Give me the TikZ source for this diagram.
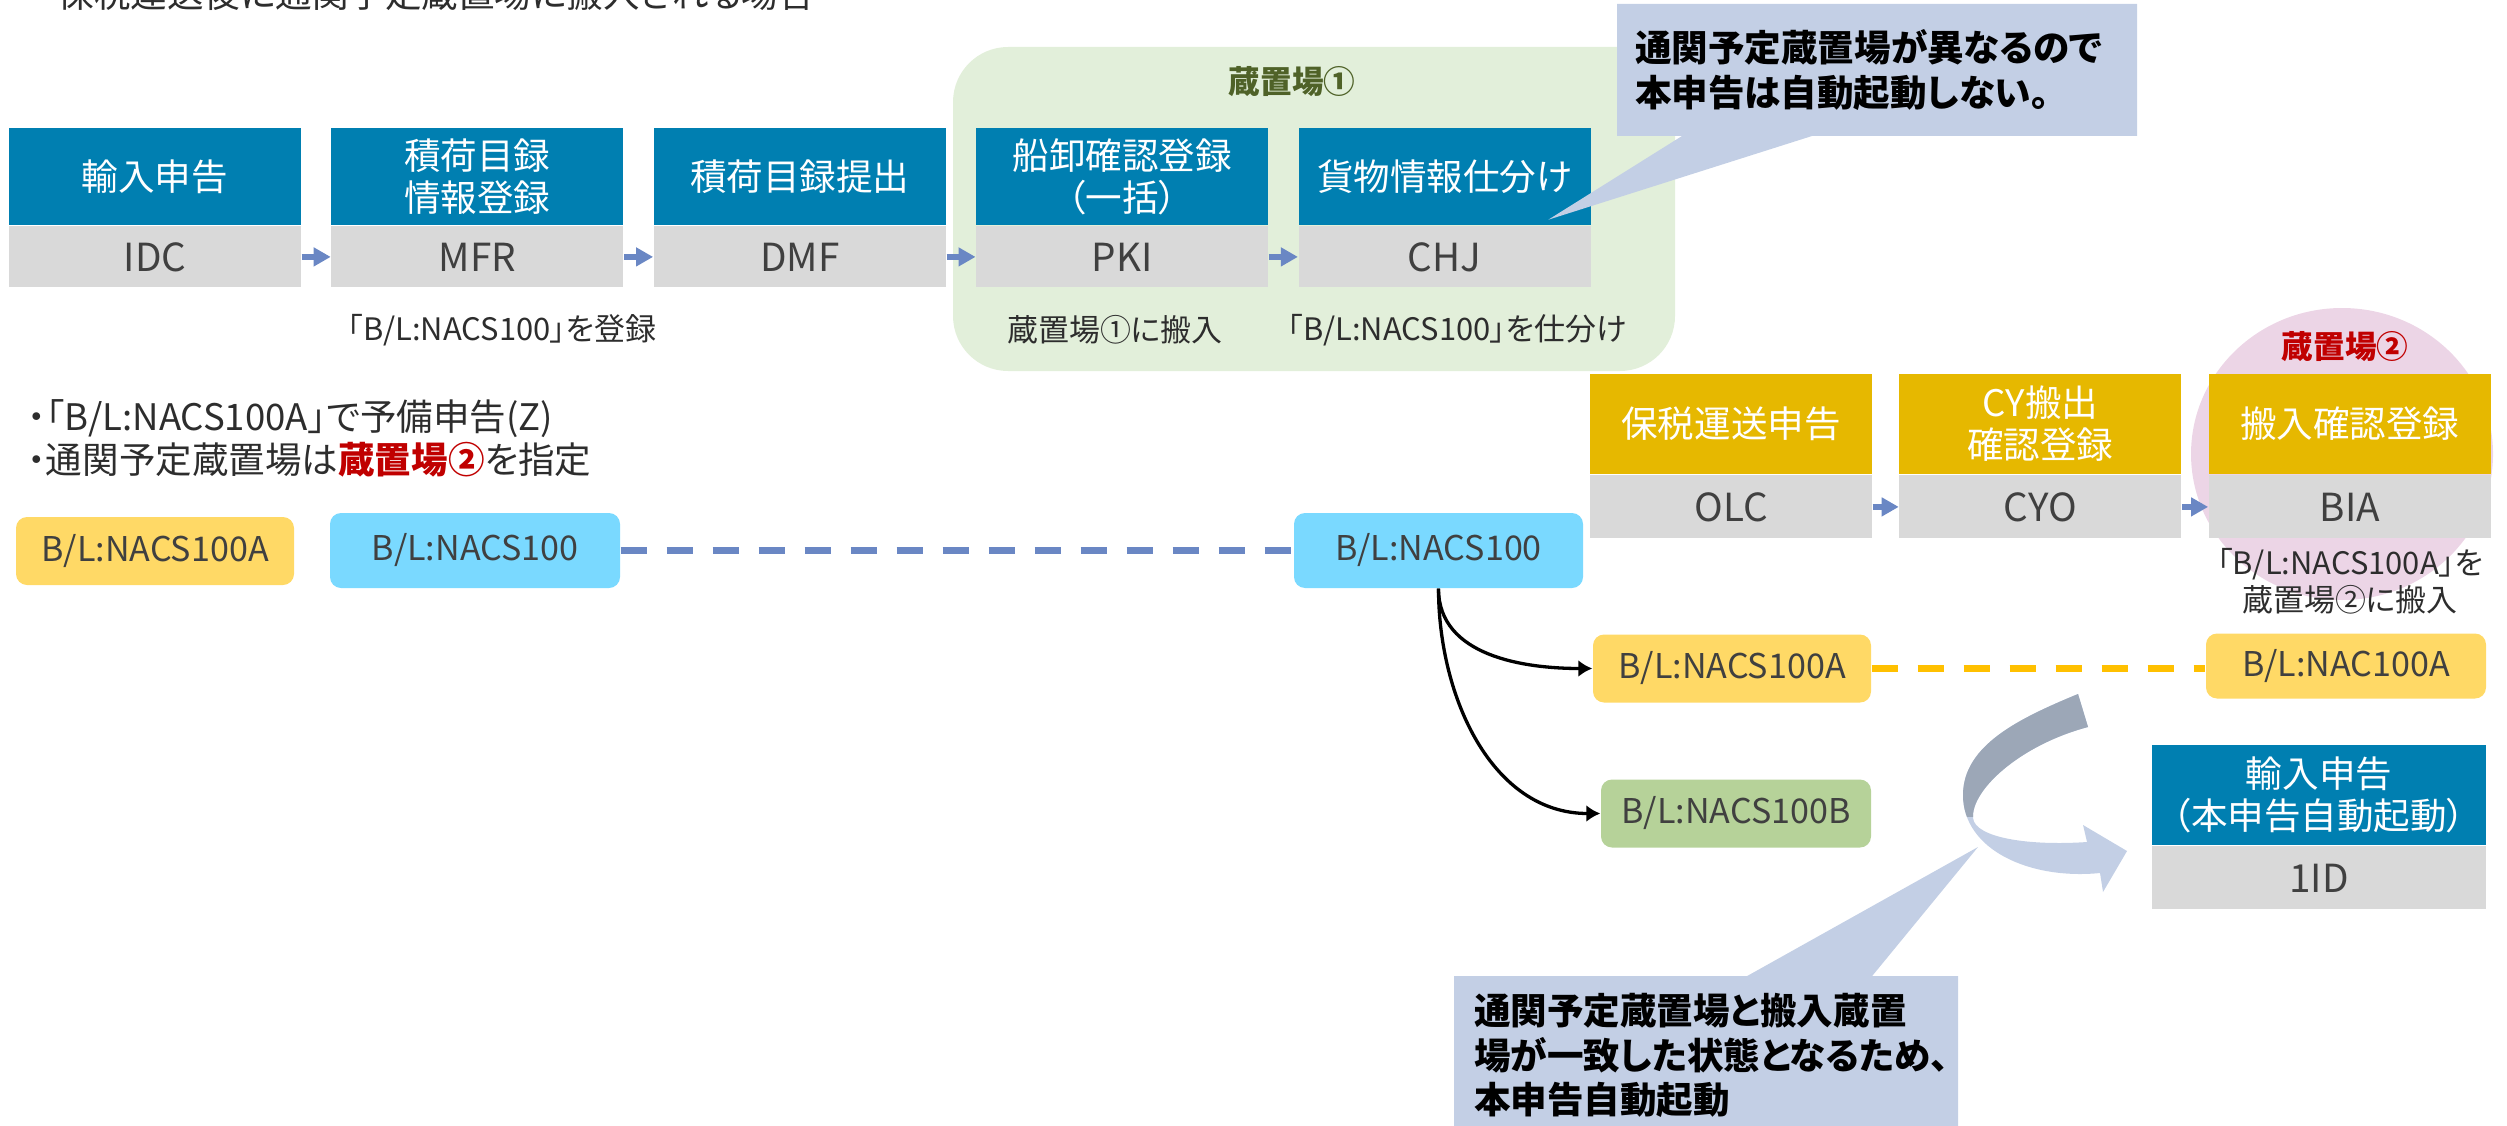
\documentclass[tikz,border=0pt]{standalone}
\usepackage{fontspec}
\setmainfont{Noto Sans CJK JP}[RawFeature=+palt]
\usetikzlibrary{arrows.meta,positioning,calc,shapes.callouts}

\definecolor{headblue}{RGB}{0,127,177}
\definecolor{headgold}{RGB}{230,184,0}
\definecolor{codegray}{RGB}{217,217,217}
\definecolor{codetext}{RGB}{64,64,64}
\definecolor{labeltext}{RGB}{45,45,45}
\definecolor{flowblue}{RGB}{106,135,196}
\definecolor{tagyellow}{RGB}{255,217,102}
\definecolor{tagcyan}{RGB}{122,217,255}
\definecolor{taggreen}{RGB}{182,210,153}
\definecolor{dashorange}{RGB}{255,192,0}
\definecolor{yardgreen}{RGB}{226,239,218}
\definecolor{yardgreentext}{RGB}{79,98,40}
\definecolor{yardpink}{RGB}{236,213,230}
\definecolor{alertred}{RGB}{192,0,0}
\definecolor{notefill}{RGB}{195,207,229}
\definecolor{bendgray}{RGB}{156,167,183}

\newcommand{\fhead}{\fontsize{10.4}{12}\selectfont}
\newcommand{\fcode}{\fontsize{11}{13}\selectfont}
\newcommand{\ftagbox}{\fontsize{9.7}{11}\selectfont}
\newcommand{\flabel}{\fontsize{8.8}{10.5}\selectfont}
\newcommand{\fyard}{\fontsize{9}{11}\selectfont}
\newcommand{\fnote}{\bfseries\fontsize{10.4}{12.6}\selectfont}

\tikzstyle{headbox} = [fill=headblue, text=white, font=\fhead, align=center, inner sep=0pt, minimum width=29.2mm, minimum height=9.7mm]
\tikzstyle{codebox} = [fill=codegray, text=codetext, font=\fcode, inner sep=0pt, minimum width=29.2mm, minimum height=6.1mm]
\tikzstyle{goldhead} = [headbox, fill=headgold, minimum width=28.2mm, minimum height=10mm]
\tikzstyle{goldcode} = [codebox, minimum width=28.2mm, minimum height=6.3mm]
\tikzstyle{tagbox} = [rounded corners=1.1mm, inner sep=0pt, minimum height=6.8mm, text=codetext, font=\ftagbox]
\tikzstyle{lbl} = [font=\flabel, text=labeltext, align=center, inner sep=0pt]
\tikzstyle{flowarrow} = [draw=flowblue, line width=0.6mm, -{Triangle[length=1.7mm,width=1.8mm]}]
\tikzstyle{splitarrow} = [draw, line width=0.33mm, -{Latex[length=1.4mm,width=1.7mm]}]
\tikzstyle{dashlink} = [line width=0.65mm, dash pattern=on 2.6mm off 2mm]
\tikzstyle{notebox} = [rectangle callout, fill=notefill, font=\fnote, align=left, inner ysep=0pt]

% curved arrow to the automatic declaration
\newcommand{\twistpath}{(2078,694) .. controls (2020,718) and (1963,745) .. (1963,795)
  .. controls (1963,850) and (2030,880) .. (2100,873) -- (2103,892) -- (2127,851)
  -- (2083,825) -- (2087,842) .. controls (2030,846) and (1975,838) .. (1973,818)
  .. controls (1971,790) and (2020,745) .. (2088,727) -- cycle}

\begin{document}
\begin{tikzpicture}[x=0.1mm, y=-0.1mm]
    \useasboundingbox (0,0) rectangle (2507,1125);

    \node[anchor=base west, inner sep=0pt, font=\fhead, text=labeltext] (title) at (57,8) {保税運送後に通関予定蔵置場に搬入される場合};

    % storage yards
    \fill[yardgreen, rounded corners=5.5mm] (953,47) rectangle (1675,371);
    \node[font=\bfseries\fyard, text=yardgreentext] (yard1) at (1292,82) {蔵置場①};
    \fill[yardpink] (2342,454) ellipse [x radius=15.1mm, y radius=14.6mm];
    \node[font=\bfseries\fyard, text=alertred] (yard2) at (2345,347) {蔵置場②};

    % first flow
    \node[headbox] (idcH) at (155,176.5) {輸入申告};
    \node[codebox, below=0pt of idcH] (idc) {IDC};
    \node[headbox, right=2.9mm of idcH] (mfrH) {積荷目録\\情報登録};
    \node[codebox, below=0pt of mfrH] (mfr) {MFR};
    \node[headbox, right=2.9mm of mfrH] (dmfH) {積荷目録提出};
    \node[codebox, below=0pt of dmfH] (dmf) {DMF};
    \node[headbox, right=2.9mm of dmfH] (pkiH) {船卸確認登録\\（一括）};
    \node[codebox, below=0pt of pkiH] (pki) {PKI};
    \node[headbox, right=2.9mm of pkiH] (chjH) {貨物情報仕分け};
    \node[codebox, below=0pt of chjH] (chj) {CHJ};
    \path[flowarrow] (idc) -- (mfr);
    \path[flowarrow] (mfr) -- (dmf);
    \path[flowarrow] (dmf) -- (pki);
    \path[flowarrow] (pki) -- (chj);

    \node[lbl] (regMFR) at (502,330) {「B/L:NACS100」を登録};
    \node[lbl] (regPKI) at (1115,330) {蔵置場①に搬入};
    \node[lbl] (regCHJ) at (1457,330) {「B/L:NACS100」を仕分け};

    % preliminary declaration
    \node[anchor=base west, inner sep=0pt, font=\fhead, text=labeltext] (prep1) at (27,430) {・「B/L:NACS100A」で予備申告(Z)};
    \node[anchor=base west, inner sep=0pt, font=\fhead, text=labeltext] (prep2) at (27,473) {・通関予定蔵置場は{\bfseries\color{alertred}蔵置場②}を指定};

    \node[tagbox, fill=tagyellow, minimum width=27.8mm] (preA) at (155,551) {B/L:NACS100A};
    \node[tagbox, fill=tagcyan, minimum width=29mm, minimum height=7.5mm] (blMain) at (475,550.5) {B/L:NACS100};
    \node[tagbox, fill=tagcyan, minimum width=28.9mm, minimum height=7.5mm] (blSort) at (1438.5,550.5) {B/L:NACS100};
    \draw[dashlink, draw=flowblue] (blMain) -- (blSort);

    % bonded transport
    \node[goldhead] (olcH) at (1731,424) {保税運送申告};
    \node[goldcode, below=0pt of olcH] (olc) {OLC};
    \node[goldhead, right=2.6mm of olcH] (cyoH) {CY搬出\\確認登録};
    \node[goldcode, below=0pt of cyoH] (cyo) {CYO};
    \node[goldhead, right=2.6mm of cyoH] (biaH) {搬入確認登録};
    \node[goldcode, below=0pt of biaH] (bia) {BIA};
    \path[flowarrow] (olc) -- (cyo);
    \path[flowarrow] (cyo) -- (bia);
    \node[lbl] (regBIA) at (2350,581) {「B/L:NACS100A」を\\蔵置場②に搬入};

    % split B/L
    \node[tagbox, fill=tagyellow, minimum width=27.8mm] (blA) at (1732,668.5) {B/L:NACS100A};
    \node[tagbox, fill=taggreen, minimum width=27mm] (blB) at (1736,813.5) {B/L:NACS100B};
    \node[tagbox, fill=tagyellow, minimum width=28mm, minimum height=6.5mm] (blNAC) at (2346,666) {B/L:NAC100A};
    \draw[splitarrow] (blSort.south) to[out=-90, in=180] (blA.west);
    \draw[splitarrow] (blSort.south) to[out=-90, in=180] (blB.west);
    \draw[dashlink, draw=dashorange] (blA.east) -- (blA.east -| blNAC.west);

    % automatic declaration
    \node[headbox, minimum width=33.4mm, minimum height=10mm] (autoH) at (2319,795) {輸入申告\\（本申告自動起動）};
    \node[codebox, minimum width=33.4mm, minimum height=6.3mm, below=0pt of autoH] (auto) {1ID};

    \fill[notefill] \twistpath;
    \begin{scope}
        \clip (1900,650) rectangle (2200,816);
        \fill[bendgray] \twistpath;
    \end{scope}

    % notes
    \node[notebox, minimum height=13.2mm, text width=48.4mm, inner xsep=1.8mm, callout pointer width=13mm,
        callout absolute pointer={($(chjH.south east)+(-43,-6)$)}] (note1) at (1877,70)
        {通関予定蔵置場が異なるので\\本申告は自動起動しない。};
    \node[notebox, minimum height=15.9mm, text width=46.4mm, inner xsep=2mm, callout pointer width=12.5mm,
        callout absolute pointer={(1978,847)}] (note2) at (1706,1055.5)
        {通関予定蔵置場と搬入蔵置\\場が一致した状態となるため、\\本申告自動起動};
\end{tikzpicture}
\end{document}
